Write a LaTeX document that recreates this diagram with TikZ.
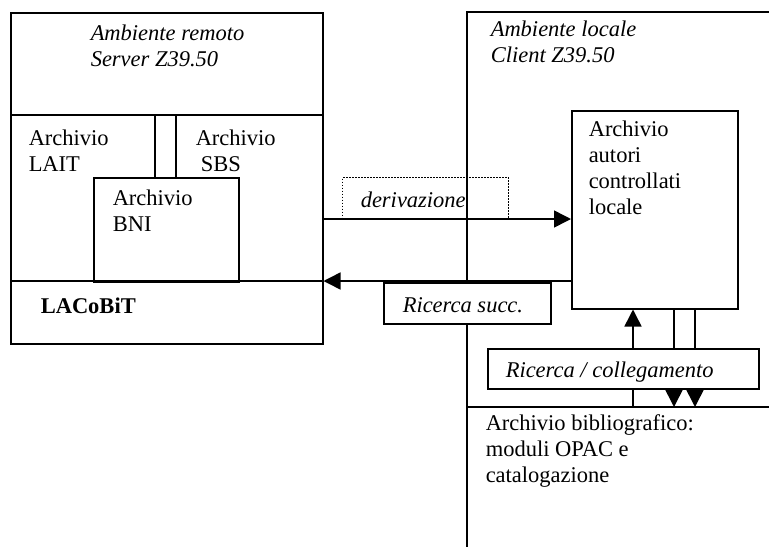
\documentclass[tikz,border=0pt]{standalone}
\usepackage{fontspec}
\setmainfont{Liberation Serif}
\usetikzlibrary{arrows.meta}
\begin{document}
\begin{tikzpicture}[x=1pt,y=-1pt,line width=1.5pt,
  box/.style={draw,inner sep=0pt,anchor=north west},
  lbl/.style={anchor=north west,inner sep=0pt,yshift=18.2pt,align=left,
    font=\fontsize{22.5}{26}\selectfont,execute at begin node=\strut},
  ilbl/.style={lbl,font=\fontsize{22.5}{26}\selectfont\itshape},
  tip/.style={-{Triangle[length=17pt,width=17pt]}}]
\useasboundingbox (0,0) rectangle (769,547);
% remote environment
\node[box,minimum width=312pt,minimum height=331pt] (remote) at (10,12) {};
\node[box,minimum width=145pt,minimum height=104pt] (bni) at (93,177) {};
\draw (remote.west |- 0,115) -- (remote.east |- 0,115);
\draw (remote.west |- 0,281) -- (remote.east |- 0,281);
\draw (bni.north -| 155,0) -- (155,115);
\draw (bni.north -| 176,0) -- (176,115);
\node[ilbl] (remtxt) at (90,42) {Ambiente remoto\\Server Z39.50};
\node[lbl] (lait) at (28,147) {Archivio\\LAIT};
\node[lbl] (sbs) at (195,147) {Archivio\\\hspace*{5pt}SBS};
\node[lbl] (bnitxt) at (112,207) {Archivio\\BNI};
\node[lbl,font=\fontsize{22.5}{26}\selectfont\bfseries] (lacobit) at (40,313) {LACoBiT};
% local environment
\coordinate (ltop) at (467,12);
\coordinate (lbot) at (467,547);
\coordinate (bib) at (467,407);
\draw (ltop -| 769,0) -- (ltop) -- (lbot);
\draw (bib) -- (bib -| 769,0);
\node[ilbl] (loctxt) at (490,38) {Ambiente locale\\Client Z39.50};
\node[box,minimum width=166pt,minimum height=198pt] (autori) at (571,110) {};
\node[lbl] (autxt) at (588,138) {Archivio\\autori\\controllati\\locale};
% derivazione
\node[box,minimum width=166pt,minimum height=42pt,line width=1pt,dash pattern=on 1.2pt off 1.8pt] (der) at (342,177) {};
\node[ilbl] (dertxt) at (360,207) {derivazione};
\draw[tip] (remote.east |- 0,219) -- (autori.west |- 0,219);
% ricerca succ
\draw[tip] (autori.west |- 0,281) -- (remote.east |- 0,281);
\node[box,fill=white,minimum width=167pt,minimum height=41pt] (succ) at (383,282) {};
\node[ilbl] (succtxt) at (402,312) {Ricerca succ.};
% ricerca / collegamento
\node[box,fill=white,minimum width=271pt,minimum height=40pt] (coll) at (487,348) {};
\node[ilbl] (colltxt) at (505,377) {Ricerca / collegamento};
\draw[tip] (coll.north -| 633,0) -- (autori.south -| 633,0);
\draw (autori.south -| 674,0) -- (coll.north -| 674,0);
\draw (autori.south -| 695,0) -- (coll.north -| 695,0);
\draw (coll.south -| 633,0) -- (bib -| 633,0);
\draw[tip] (coll.south -| 674,0) -- (bib -| 674,0);
\draw[tip] (coll.south -| 695,0) -- (bib -| 695,0);
\node[lbl] (bibtxt) at (485,432) {Archivio bibliografico:\\moduli OPAC e\\catalogazione};
\end{tikzpicture}
\end{document}
